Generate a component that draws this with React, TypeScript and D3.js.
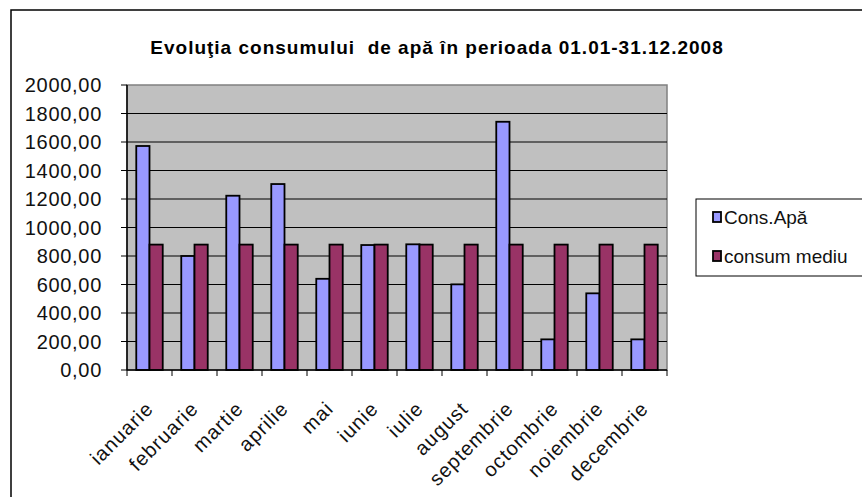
import * as d3 from "d3";

const W = 862;
const H = 497;

const months = [
  "ianuarie",
  "februarie",
  "martie",
  "aprilie",
  "mai",
  "iunie",
  "iulie",
  "august",
  "septembrie",
  "octombrie",
  "noiembrie",
  "decembrie",
];
const consApa = [1572, 800, 1223, 1305, 640, 877, 882, 601, 1742, 215, 538, 215];
const consumMediu = [880, 880, 880, 880, 880, 880, 880, 880, 880, 880, 880, 880];
const seriesNames = ["Cons.Apă", "consum mediu"];
const seriesColors = ["#9999FF", "#993366"];
const yTicks = [0, 200, 400, 600, 800, 1000, 1200, 1400, 1600, 1800, 2000];

const plot = { left: 127, right: 667, top: 85, bottom: 370 };
const font = "'Liberation Sans', Arial, sans-serif";

const x = d3.scaleBand().domain(months).range([plot.left, plot.right]);
const xInner = d3
  .scaleBand()
  .domain(seriesNames)
  .range([0, x.bandwidth()])
  .paddingOuter(0.7);
const y = d3.scaleLinear().domain([0, 2000]).range([plot.bottom, plot.top]);
const fmt = (v: number) => d3.format(".2f")(v).replace(".", ",");

function App() {
  const series = [consApa, consumMediu];
  return (
    <svg
      width={W}
      height={H}
      style={{ position: "absolute", left: 0, top: 0, background: "#fff" }}
      fontFamily={font}
    >
      <rect x={11} y={10} width={900} height={600} fill="#fff" stroke="#000" strokeWidth={1.5} />

      <text
        x={437}
        y={54}
        textAnchor="middle"
        fontSize={19}
        fontWeight="bold"
        letterSpacing={1}
        style={{ whiteSpace: "pre" }}
      >
        Evoluţia consumului  de apă în perioada 01.01-31.12.2008
      </text>

      {/* plot area */}
      <rect
        x={plot.left}
        y={plot.top}
        width={plot.right - plot.left}
        height={plot.bottom - plot.top}
        fill="#C0C0C0"
        stroke="#808080"
        strokeWidth={1.5}
      />
      {yTicks.slice(1, -1).map((t) => (
        <line key={t} x1={plot.left} x2={plot.right} y1={y(t)} y2={y(t)} stroke="#000" strokeWidth={1} />
      ))}

      {series.map((vals, si) =>
        vals.map((v, i) => (
          <rect
            key={si + "-" + i}
            x={(x(months[i]) ?? 0) + (xInner(seriesNames[si]) ?? 0)}
            y={y(v)}
            width={xInner.bandwidth()}
            height={y(0) - y(v)}
            fill={seriesColors[si]}
            stroke="#000"
            strokeWidth={1.8}
          />
        ))
      )}

      {/* y axis */}
      <line x1={plot.left} x2={plot.left} y1={plot.top} y2={plot.bottom} stroke="#000" strokeWidth={1.5} />
      {yTicks.map((t) => (
        <g key={t}>
          <line x1={plot.left - 6} x2={plot.left} y1={y(t)} y2={y(t)} stroke="#000" />
          <text x={102} y={y(t)} dy="0.35em" textAnchor="end" fontSize={20} letterSpacing={0.7} fill="#111">
            {fmt(t)}
          </text>
        </g>
      ))}

      {/* x axis */}
      <line x1={plot.left} x2={plot.right} y1={plot.bottom} y2={plot.bottom} stroke="#000" strokeWidth={1.5} />
      {months.concat([""]).map((m, i) => {
        const xx = plot.left + i * x.step();
        return <line key={"t" + i} x1={xx} x2={xx} y1={plot.bottom} y2={plot.bottom + 6} stroke="#000" />;
      })}
      {months.map((m) => {
        const cx = (x(m) ?? 0) + x.bandwidth() / 2 + 5;
        const cy = 410;
        return (
          <text
            key={m}
            x={cx}
            y={cy}
            textAnchor="end"
            fontSize={20}
            letterSpacing={1}
            fill="#111"
            transform={`rotate(-45,${cx},${cy})`}
          >
            {m}
          </text>
        );
      })}

      {/* legend */}
      <rect x={696} y={199} width={200} height={77} fill="#fff" stroke="#000" strokeWidth={1} />
      {seriesNames.map((s, i) => (
        <g key={s}>
          <rect x={713} y={212 + i * 39} width={8} height={10} fill={seriesColors[i]} stroke="#000" strokeWidth={1.8} />
          <text x={724} y={224 + i * 39} fontSize={19} fill="#111">
            {s}
          </text>
        </g>
      ))}
    </svg>
  );
}

export default App;
